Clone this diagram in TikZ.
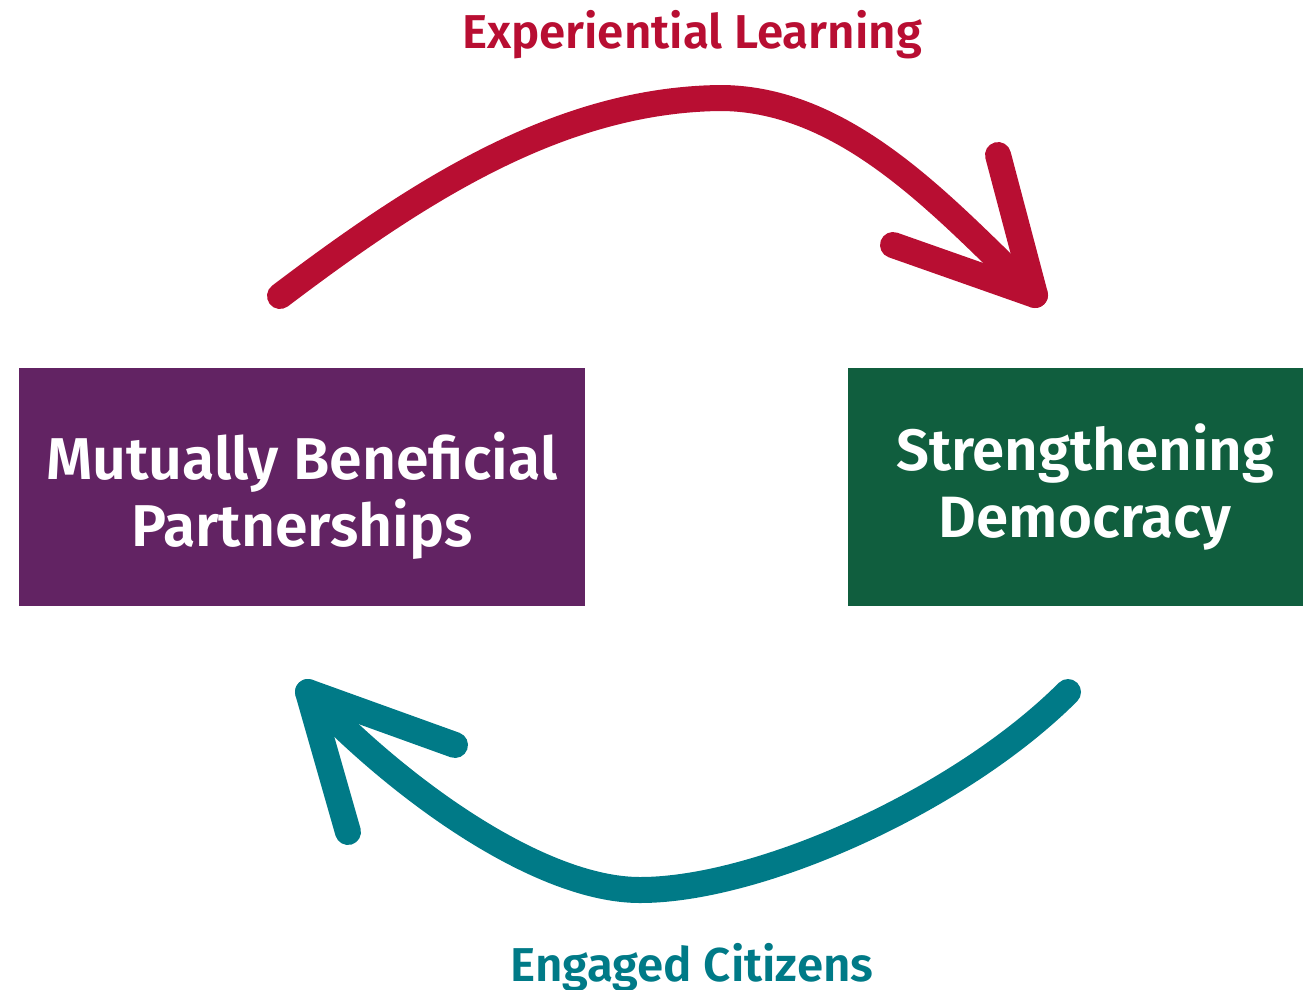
\documentclass[tikz,border=0pt]{standalone}
\usepackage{fontspec}
\setmainfont{Fira Sans}[BoldFont={Fira Sans SemiBold}]
\definecolor{cred}{RGB}{184,14,50}
\definecolor{cteal}{RGB}{0,122,135}
\definecolor{cpurple}{RGB}{98,35,99}
\definecolor{cgreen}{RGB}{16,94,62}
\begin{document}
\begin{tikzpicture}[x=1pt,y=-1pt,
  box/.style={inner sep=0pt, minimum height=238pt},
  boxtext/.style={inner sep=0pt, text=white, align=center, font=\bfseries\fontsize{59}{67}\selectfont},
  lbl/.style={inner sep=0pt, anchor=base, font=\bfseries\fontsize{47.5}{56}\selectfont},
  brush/.style={line width=26pt, line cap=round, line join=round}]
\useasboundingbox (0,0) rectangle (1303,989);
\node[box, fill=cpurple, minimum width=566pt] (mbp) at (302,487) {};
\node[box, fill=cgreen, minimum width=455pt] (sd) at (1075.5,487) {};
\node[boxtext] (mbpt) at (302,496) {Mutually Beneficial\\Partnerships};
\node[boxtext, font=\bfseries\fontsize{58.3}{67}\selectfont] (sdt) at (1085,487) {Strengthening\\Democracy};
\node[lbl, text=cred] (el) at (692,48) {Experiential Learning};
\node[lbl, text=cteal] (ec) at (692,981) {Engaged Citizens};
% red arrow
\coordinate (r0) at (280,296);
\coordinate (rm) at (720,98);
\coordinate (r1) at (1035,295);
\coordinate (rh1) at (998,155);
\coordinate (rh2) at (893,245);
\draw[brush, cred] (r0) .. controls (420,190) and (560,100) .. (rm)
  .. controls (850,98) and (950,215) .. (r1);
\draw[brush, cred] (rh1) -- (r1) -- (rh2);
% teal arrow
\coordinate (t0) at (1068,692);
\coordinate (tm) at (640,890);
\coordinate (t1) at (308,692);
\coordinate (th1) at (348,832);
\coordinate (th2) at (455,745);
\draw[brush, cteal] (t0) .. controls (960,800) and (760,890) .. (tm)
  .. controls (540,890) and (400,790) .. (t1);
\draw[brush, cteal] (th1) -- (t1) -- (th2);
\end{tikzpicture}
\end{document}
